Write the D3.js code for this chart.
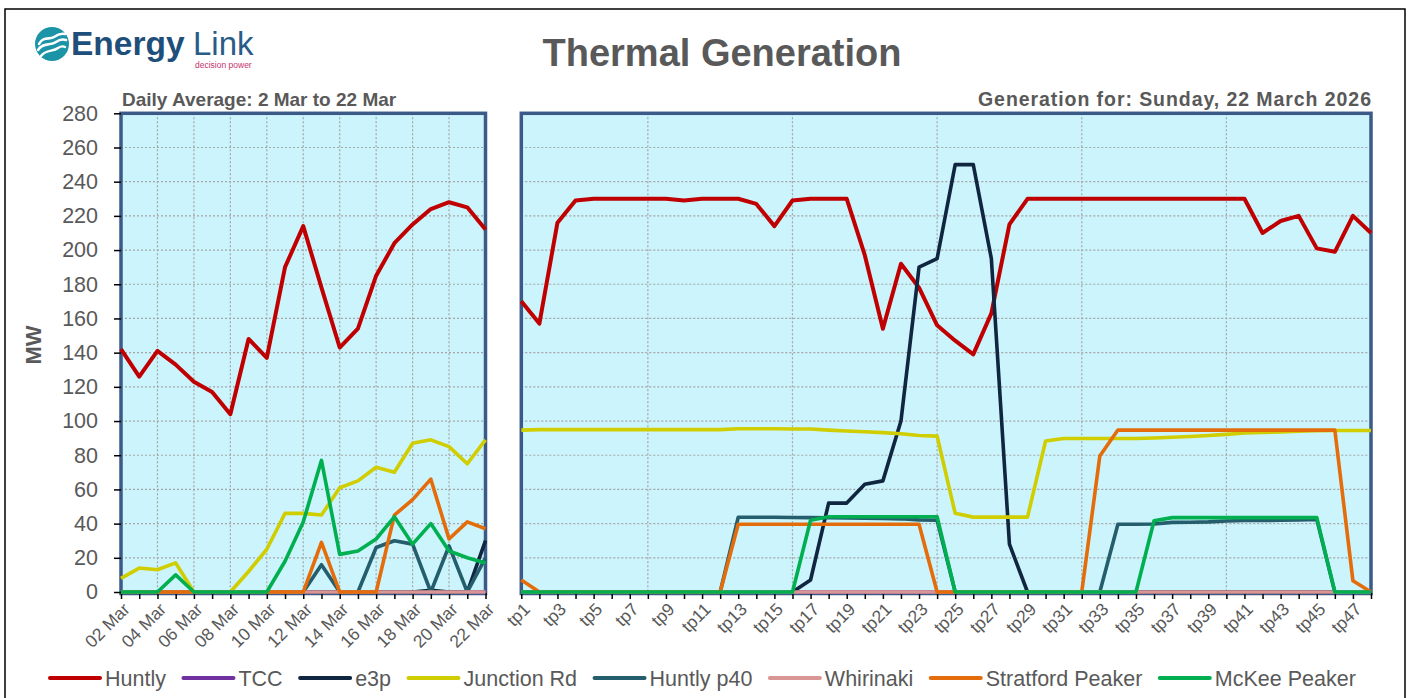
<!DOCTYPE html>
<html><head><meta charset="utf-8">
<script src="https://cdn.jsdelivr.net/npm/d3@7"></script>
<style>
body{margin:0;background:#fff;}
svg{display:block;font-family:"Liberation Sans",Arial,sans-serif;}
</style>
</head><body>
<svg id="c" width="1409" height="698"></svg>
<script>
// ---------- DATA ----------
const days = ["02 Mar","03 Mar","04 Mar","05 Mar","06 Mar","07 Mar","08 Mar","09 Mar","10 Mar","11 Mar","12 Mar",
  "13 Mar","14 Mar","15 Mar","16 Mar","17 Mar","18 Mar","19 Mar","20 Mar","21 Mar","22 Mar"];
const tps = ["tp1","tp2","tp3","tp4","tp5","tp6","tp7","tp8","tp9","tp10","tp11","tp12","tp13","tp14","tp15","tp16",
  "tp17","tp18","tp19","tp20","tp21","tp22","tp23","tp24","tp25","tp26","tp27","tp28","tp29","tp30","tp31","tp32",
  "tp33","tp34","tp35","tp36","tp37","tp38","tp39","tp40","tp41","tp42","tp43","tp44","tp45","tp46","tp47","tp48"];
const yTicks = [0,20,40,60,80,100,120,140,160,180,200,220,240,260,280];

const seriesNames  = ["Huntly","TCC","e3p","Junction Rd","Huntly p40","Whirinaki","Stratford Peaker","McKee Peaker"];
const seriesColors = ["#C00000","#7030A0","#10253F","#D0CD00","#245D6C","#D99694","#E46C0A","#00B050"];

// Daily averages (2 Mar - 22 Mar)
const huntlyDaily    = [142,126,141,133,123,117,104,148,137,190,214,178,143,154,185,204,215,224,228,225,212];
const tccDaily       = [0,0,0,0,0,0,0,0,0,0,0,0,0,0,0,0,0,0,0,0,0];
const e3pDaily       = [0,0,0,0,0,0,0,0,0,0,0,0,0,0,0,0,0,1,0,0,30];
const junctionDaily  = [8,14,13,17,0,0,0,12,25,46,46,45,61,65,73,70,87,89,85,75,89];
const p40Daily       = [0,0,0,0,0,0,0,0,0,0,0,16,0,0,26,30,28,0,27,0,20];
const whirinakiDaily = [0,0,0,0,0,0,0,0,0,0,0,0,0,0,0,0,0,0,0,0,0];
const stratfordDaily = [0,0,0,0,0,0,0,0,0,0,0,29,0,0,0,45,54,66,31,41,37];
const mckeeDaily     = [0,0,0,10,0,0,0,0,0,18,41,77,22,24,31,44,28,40,24,20,17];

// Trading periods, Sunday 22 March 2026
const huntlyTp    = [170,157,216,229,230,230,230,230,230,229,230,230,230,227,214,229,230,230,230,197,154,192,178,156,
                     147,139,163,215,230,230,230,230,230,230,230,230,230,230,230,230,230,210,217,220,201,199,220,210];
const tccTp       = [0,0,0,0,0,0,0,0,0,0,0,0,0,0,0,0,0,0,0,0,0,0,0,0,0,0,0,0,0,0,0,0,0,0,0,0,0,0,0,0,0,0,0,0,0,0,0,0];
const e3pTp       = [0,0,0,0,0,0,0,0,0,0,0,0,0,0,0,0,7,52,52,63,65,100,190,195,
                     250,250,195,28,0,0,0,0,0,0,0,0,0,0,0,0,0,0,0,0,0,0,0,0];
const junctionTp  = [94.7,95,95,95,95,95,95,95,95,95,95,95,95.5,95.5,95.5,95.3,95.3,94.7,94.2,93.7,93.2,92.6,91.5,91.2,
                     46,43.8,43.8,43.8,43.8,88.3,89.8,89.8,89.8,89.8,89.8,90.1,90.5,91,91.5,92.2,93,93.3,93.6,94,94.3,94.5,94.5,94.5];
const p40Tp       = [0,0,0,0,0,0,0,0,0,0,0,0,43.7,43.7,43.7,43.6,43.5,43.4,43.3,43.1,43,42.8,42.2,42,
                     0,0,0,0,0,0,0,0,0,39.6,39.6,39.8,40.7,40.8,41,41.5,41.8,41.8,42,42.2,42.5,0,0,0];
const whirinakiTp = [0,0,0,0,0,0,0,0,0,0,0,0,0,0,0,0,0,0,0,0,0,0,0,0,0,0,0,0,0,0,0,0,0,0,0,0,0,0,0,0,0,0,0,0,0,0,0,0];
const stratfordTp = [7,0,0,0,0,0,0,0,0,0,0,0,39.6,39.6,39.6,39.6,39.6,39.6,39.6,39.6,39.6,39.6,39.6,0,
                     0,0,0,0,0,0,0,0,79.5,94.7,94.7,94.7,94.7,94.7,94.7,94.7,94.7,94.7,94.7,94.7,94.7,94.7,6.6,0];
const mckeeTp     = [0,0,0,0,0,0,0,0,0,0,0,0,0,0,0,0,42,44,44,44,44,44,44,44,
                     0,0,0,0,0,0,0,0,0,0,0,41.7,43.5,43.5,43.5,43.5,43.5,43.5,43.5,43.5,43.5,0,0,0];

const dailySeries = [huntlyDaily,tccDaily,e3pDaily,junctionDaily,p40Daily,whirinakiDaily,stratfordDaily,mckeeDaily];
const tpSeries    = [huntlyTp,tccTp,e3pTp,junctionTp,p40Tp,whirinakiTp,stratfordTp,mckeeTp];

// ---------- DRAW ----------
const svg = d3.select("#c");
const grey = "#595959";
svg.append("rect").attr("width",1409).attr("height",698).attr("fill","#fff");
svg.append("rect").attr("x",5).attr("y",9).attr("width",1400).attr("height",700)
  .attr("fill","none").attr("stroke","#000").attr("stroke-width",1.5);

// logo
const logo = svg.append("g");
logo.append("circle").attr("cx",52).attr("cy",44).attr("r",17).attr("fill","#1B94A8");
[["M39,44 C43,36 50,40 54,37 C58,34 61,33 65,34",2.6],
 ["M38,50 C43,42 51,46 56,42 C60,39 63,39 66,40",2.6],
 ["M41,56 C46,49 53,52 58,48 C61,46 63,46 65,47",2.4]].forEach(p=>{
  logo.append("path").attr("d",p[0]).attr("fill","none").attr("stroke","#fff")
    .attr("stroke-width",p[1]).attr("stroke-linecap","round");
});
logo.append("text").attr("x",71).attr("y",55).attr("font-size",33.5).attr("font-weight","bold")
  .attr("fill","#1E4F7A").text("Energy");
logo.append("text").attr("x",193).attr("y",55).attr("font-size",33)
  .attr("fill","#2A5C88").text("Link");
logo.append("text").attr("x",195).attr("y",68).attr("font-size",8.5)
  .attr("fill","#C8336E").text("decision power");

// titles
svg.append("text").attr("x",722).attr("y",66).attr("text-anchor","middle")
  .attr("font-size",38).attr("font-weight","bold").attr("fill",grey).text("Thermal Generation");
svg.append("text").attr("x",122).attr("y",106).attr("font-size",19).attr("font-weight","bold")
  .attr("fill",grey).text("Daily Average: 2 Mar to 22 Mar");
svg.append("text").attr("x",978).attr("y",106).attr("font-size",19.5)
  .attr("textLength",393).attr("lengthAdjust","spacing")
  .attr("font-weight","bold").attr("fill",grey).text("Generation for: Sunday, 22 March 2026");
svg.append("text").attr("transform","translate(41,345) rotate(-90)").attr("text-anchor","middle")
  .attr("font-size",22).attr("font-weight","bold").attr("fill",grey).text("MW");

const y = d3.scaleLinear().domain([0,280]).range([592,113.3]);
const xL = d3.scalePoint().domain(days).range([121,485.5]);
const xR = d3.scalePoint().domain(tps).range([521.3,1371]);

function panel(x, cats, series, vGridIdx, labelFilter){
  const [x0,x1] = x.range();
  const g = svg.append("g");
  g.append("rect").attr("x",x0).attr("y",y(280)).attr("width",x1-x0).attr("height",y(0)-y(280))
    .attr("fill","#CBF4FC");
  g.selectAll(".hg").data(yTicks.filter(v=>v>0 && v<280)).join("line")
    .attr("x1",x0).attr("x2",x1).attr("y1",d=>y(d)).attr("y2",d=>y(d))
    .attr("stroke","#A5A5A5").attr("stroke-width",1.2).attr("stroke-dasharray","2,2");
  g.selectAll(".vg").data(vGridIdx).join("line")
    .attr("x1",i=>x(cats[i])).attr("x2",i=>x(cats[i])).attr("y1",y(280)).attr("y2",y(0))
    .attr("stroke","#A5A5A5").attr("stroke-width",1.2).attr("stroke-dasharray","2,2");
  g.append("rect").attr("x",x0).attr("y",y(280)).attr("width",x1-x0).attr("height",y(0)-y(280)+1.5)
    .attr("fill","none").attr("stroke","#3B5A88").attr("stroke-width",3.5);
  const ax = g.append("g").attr("transform",`translate(0,593)`)
    .call(d3.axisBottom(x).tickSize(6).tickFormat((d,i)=>labelFilter(i)?d:""));
  ax.select(".domain").remove();
  ax.selectAll(".tick line").attr("stroke","#000").attr("stroke-width",1.5);
  ax.selectAll(".tick text").attr("x",0).attr("y",0).attr("dy","0.75em")
    .attr("text-anchor","end").attr("transform","translate(0,8) rotate(-45)")
    .attr("font-size",17.5).attr("fill",grey).attr("font-family","Liberation Sans, Arial, sans-serif");
  const line = d3.line().x((d,i)=>x(cats[i])).y(d=>y(d));
  series.forEach((s,k)=>{
    g.append("path").datum(s).attr("d",line).attr("fill","none")
      .attr("stroke",seriesColors[k]).attr("stroke-width",k===0?4:3.6)
      .attr("stroke-linejoin","round");
  });
}

panel(xL, days, dailySeries, [2,4,6,8,10,12,14,16,18], i=>i%2===0);
panel(xR, tps, tpSeries, [7,15,23,31,39], i=>i%2===0);

const ay = svg.append("g").attr("transform","translate(121,0)")
  .call(d3.axisLeft(y).tickValues(yTicks).tickSize(7).tickPadding(16));
ay.select(".domain").remove();
ay.selectAll(".tick line").attr("stroke","#000").attr("stroke-width",1.5);
ay.selectAll(".tick text").attr("font-size",21.5).attr("fill",grey)
  .attr("font-family","Liberation Sans, Arial, sans-serif");

const leg = svg.append("g");
let lx = 50;
seriesNames.forEach((n,k)=>{
  leg.append("line").attr("x1",lx).attr("x2",lx+50).attr("y1",678).attr("y2",678)
    .attr("stroke",seriesColors[k]).attr("stroke-width",4).attr("stroke-linecap","round");
  const t = leg.append("text").attr("x",lx+55).attr("y",686).attr("font-size",21.5)
    .attr("fill",grey).text(n);
  lx = lx + 55 + t.node().getComputedTextLength() + 17.5;
});
</script>
</body></html>
